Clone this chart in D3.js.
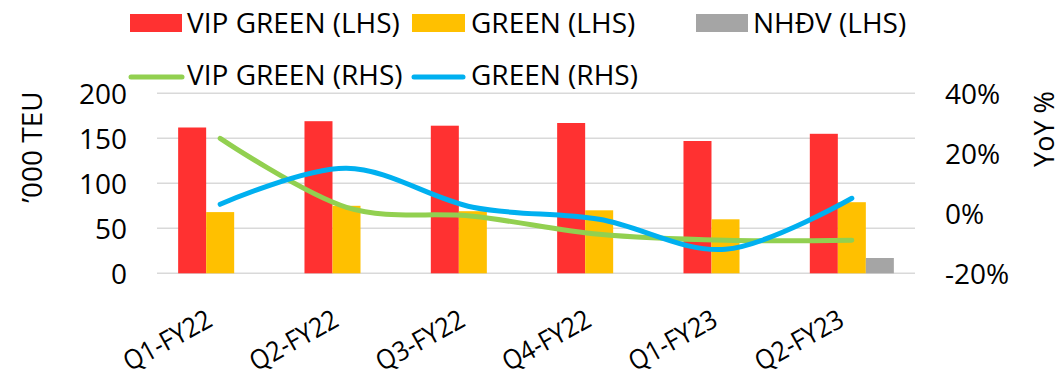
<!DOCTYPE html>
<html>
<head>
<meta charset="utf-8">
<script src="https://cdn.jsdelivr.net/npm/d3@7"></script>
<style>
  html, body { margin: 0; padding: 0; background: #fff; }
  svg { display: block; }
  text { font-family: "Open Sans", sans-serif; fill: #000; }
</style>
</head>
<body>
<svg id="chart" width="1061" height="379"></svg>
<script>
// Quarterly container throughput ('000 TEU) and YoY growth (%)
const categories = ["Q1-FY22", "Q2-FY22", "Q3-FY22", "Q4-FY22", "Q1-FY23", "Q2-FY23"];

const vipGreenTeu = [162, 169, 164, 167, 147, 155];
const greenTeu    = [68, 75, 69, 70, 60, 79];
const nhdvTeu     = [null, null, null, null, null, 17];

const vipGreenYoY = [25, 2, -1, -7, -9, -9];
const greenYoY    = [3, 15, 2, -2, -12, 5];

const leftTicks  = [0, 50, 100, 150, 200];
const rightTicks = [-20, 0, 20, 40];

const barSeries = [
  { name: "VIP GREEN (LHS)", values: vipGreenTeu, color: "#FF3131" },
  { name: "GREEN (LHS)",     values: greenTeu,    color: "#FFC000" },
  { name: "NHĐV (LHS)",      values: nhdvTeu,     color: "#A5A5A5" }
];
const lineSeries = [
  { name: "VIP GREEN (RHS)", values: vipGreenYoY, color: "#92D050" },
  { name: "GREEN (RHS)",     values: greenYoY,    color: "#00B0F0" }
];

const svg = d3.select("#chart");
const plot = { left: 157, right: 915, top: 93.3, bottom: 273.3 };

const x0 = d3.scaleBand().domain(categories).range([plot.left, plot.right]).padding(0);
const x1 = d3.scaleBand().domain(barSeries.map(s => s.name))
  .range([0, x0.bandwidth()]).paddingInner(0).paddingOuter(0.755);
const yL = d3.scaleLinear().domain([0, 200]).range([plot.bottom, plot.top]);
const yR = d3.scaleLinear().domain([-20, 40]).range([plot.bottom, plot.top]);

// gridlines
svg.append("g").selectAll("line").data(leftTicks).join("line")
  .attr("x1", plot.left).attr("x2", plot.right)
  .attr("y1", d => yL(d)).attr("y2", d => yL(d))
  .attr("stroke", "#D9D9D9").attr("stroke-width", 1.5);

// left axis
const axL = svg.append("g").attr("transform", `translate(${plot.left - 30},0)`)
  .call(d3.axisLeft(yL).tickValues(leftTicks).tickSize(0).tickPadding(0));
axL.select(".domain").remove();
axL.selectAll("text").attr("font-size", 28).attr("font-family", "Open Sans").attr("dy", "0.35em");

// right axis
const axR = svg.append("g").attr("transform", `translate(${plot.right + 30},0)`)
  .call(d3.axisRight(yR).tickValues(rightTicks).tickSize(0).tickPadding(0).tickFormat(d => d + "%"));
axR.select(".domain").remove();
axR.selectAll("text").attr("font-size", 28).attr("font-family", "Open Sans").attr("dy", "0.35em");

// axis titles
svg.append("text").attr("transform", "translate(42,147) rotate(-90)")
  .attr("text-anchor", "middle").attr("font-size", 28).text("’000 TEU");
svg.append("text").attr("transform", "translate(1054,129) rotate(-90)")
  .attr("text-anchor", "middle").attr("font-size", 27).text("YoY %");

// bars
const groups = svg.append("g").selectAll("g").data(barSeries).join("g").attr("fill", d => d.color);
groups.selectAll("rect")
  .data(s => s.values.map((v, i) => ({ s: s.name, v, c: categories[i] })).filter(d => d.v != null))
  .join("rect")
  .attr("x", d => x0(d.c) + x1(d.s))
  .attr("width", x1.bandwidth())
  .attr("y", d => yL(d.v))
  .attr("height", d => yL(0) - yL(d.v));

// smoothed YoY lines
const line = d3.line()
  .x((d, i) => x0(categories[i]) + x0.bandwidth() / 2)
  .y(d => yR(d))
  .curve(d3.curveCatmullRom.alpha(0));
svg.append("g").selectAll("path").data(lineSeries).join("path")
  .attr("d", d => line(d.values))
  .attr("fill", "none").attr("stroke", d => d.color)
  .attr("stroke-width", 5).attr("stroke-linecap", "round");

// slanted category labels (slightly condensed)
svg.append("g").selectAll("text").data(categories).join("text")
  .attr("transform", d => `translate(${x0(d) + x0.bandwidth() / 2 - 6},325) rotate(-29) scale(0.92,1)`)
  .attr("text-anchor", "end").attr("font-size", 27).text(d => d);

// legend
const legend = svg.append("g");
const row1 = [{ x: 130, w: 52, tx: 187 }, { x: 412, w: 53, tx: 471 }, { x: 696, w: 52, tx: 753 }];
barSeries.forEach((s, i) => {
  legend.append("rect").attr("x", row1[i].x).attr("y", 14).attr("width", row1[i].w).attr("height", 18).attr("fill", s.color);
  legend.append("text").attr("x", row1[i].tx).attr("y", 33).attr("font-size", 28).text(s.name);
});
const row2 = [{ x: 129, x2: 184, tx: 187 }, { x: 412, x2: 465, tx: 471 }];
lineSeries.forEach((s, i) => {
  legend.append("line").attr("x1", row2[i].x + 2).attr("x2", row2[i].x2 - 2).attr("y1", 77).attr("y2", 77)
    .attr("stroke", s.color).attr("stroke-width", 5).attr("stroke-linecap", "round");
  legend.append("text").attr("x", row2[i].tx).attr("y", 85).attr("font-size", 28).text(s.name);
});
</script>
</body>
</html>
